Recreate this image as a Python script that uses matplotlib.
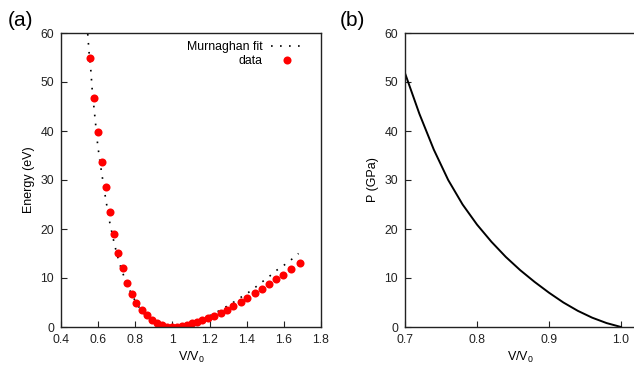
import matplotlib
matplotlib.use("Agg")
import matplotlib.pyplot as plt

# (a) energy data points
v_data = [0.557, 0.578, 0.598, 0.620, 0.640, 0.665, 0.685, 0.708, 0.733, 0.755,
          0.780, 0.805, 0.834, 0.861, 0.889, 0.916, 0.944, 0.971, 0.998, 1.025,
          1.052, 1.079, 1.106, 1.133, 1.161, 1.192, 1.226, 1.259, 1.294, 1.328,
          1.369, 1.404, 1.442, 1.481, 1.522, 1.557, 1.598, 1.638, 1.685]
e_data = [54.8, 46.8, 39.7, 33.6, 28.6, 23.5, 19.0, 15.2, 12.0, 9.0,
          6.8, 4.9, 3.5, 2.4, 1.4, 0.8, 0.35, 0.05, 0.0, 0.05,
          0.2, 0.45, 0.75, 1.1, 1.4, 1.8, 2.2, 2.9, 3.5, 4.3,
          5.1, 5.9, 6.9, 7.8, 8.7, 9.7, 10.7, 11.8, 13.0]

# (a) Murnaghan fit curve
v_fit = [0.544, 0.551, 0.561, 0.568, 0.578, 0.588, 0.598, 0.610, 0.622, 0.640,
         0.660, 0.680, 0.700, 0.725, 0.750, 0.780, 0.810, 0.840, 0.870, 0.900,
         0.930, 0.960, 1.000, 1.040, 1.080, 1.120, 1.160, 1.200, 1.232, 1.274,
         1.319, 1.362, 1.404, 1.443, 1.483, 1.521, 1.562, 1.604, 1.645, 1.679]
e_fit = [59.8, 56.1, 52.2, 48.4, 44.6, 40.8, 37.0, 33.7, 30.7, 26.3,
         21.8, 18.2, 15.0, 11.8, 9.2, 6.7, 4.6, 3.0, 1.8, 0.9,
         0.35, 0.08, 0.0, 0.15, 0.5, 1.0, 1.6, 2.3, 2.9, 3.8,
         4.8, 5.9, 6.9, 8.0, 9.2, 10.3, 11.6, 12.7, 13.9, 15.0]

# (b) pressure curve
v_p = [0.70, 0.72, 0.74, 0.76, 0.78, 0.80, 0.82, 0.84, 0.86, 0.88,
       0.90, 0.92, 0.94, 0.96, 0.98, 1.00]
p_gpa = [51.8, 43.5, 36.2, 30.0, 25.0, 20.9, 17.4, 14.3, 11.6, 9.2,
         7.0, 5.0, 3.3, 1.9, 0.8, 0.0]

a_xticks = [0.4, 0.6, 0.8, 1.0, 1.2, 1.4, 1.6, 1.8]
a_xlabels = ['0.4', '0.6', '0.8', '1', '1.2', '1.4', '1.6', '1.8']
b_xticks = [0.7, 0.8, 0.9, 1.0]
b_xlabels = ['0.7', '0.8', '0.9', '1.0']
yticks = [0, 10, 20, 30, 40, 50, 60]

plt.rcParams['font.family'] = ['Liberation Sans', 'DejaVu Sans']
plt.rcParams['font.size'] = 8.8
plt.rcParams['axes.linewidth'] = 1.0

fig = plt.figure(figsize=(6.34, 3.69), dpi=100)
ax1 = fig.add_axes([61 / 634, 42 / 369, 260 / 634, 294 / 369])
ax2 = fig.add_axes([405 / 634, 42 / 369, 0.32 * 720 / 634, 294 / 369])

for ax in (ax1, ax2):
    ax.tick_params(direction='in', length=4, width=0.8, top=False, right=False,
                   pad=5, colors='#222222', labelsize=8.8)
    ax.set_yticks(yticks)
    ax.set_ylim(0, 60)
    for s in ax.spines.values():
        s.set_color('#222222')

# --- panel (a)
ax1.plot(v_fit, e_fit, color='black', lw=1.2, linestyle=(0, (1, 4.4)),
         label='Murnaghan fit')
ax1.plot(v_data, e_data, linestyle='none', marker='o', ms=5.8, color='red',
         markeredgewidth=0, label='data')
ax1.set_xlim(0.4, 1.8)
ax1.set_xticks(a_xticks)
ax1.set_xticklabels(a_xlabels)
ax1.set_xlabel('V/V$_\\mathregular{0}$', labelpad=3, fontsize=9)
ax1.set_ylabel('Energy (eV)', labelpad=4, fontsize=9)
ax1.legend(loc='upper right', bbox_to_anchor=(0.95, 0.99), frameon=False,
           markerfirst=False, handlelength=2.6, handletextpad=0.7,
           labelspacing=0.2, borderaxespad=0, fontsize=8.8)
fig.text(8 / 634, 1 - 20 / 369, '(a)', fontsize=15, va='center', ha='left')

# --- panel (b)
ax2.plot(v_p, p_gpa, color='black', lw=1.4)
ax2.set_xlim(0.7, 1.02)
ax2.set_xticks(b_xticks)
ax2.set_xticklabels(b_xlabels)
ax2.spines['right'].set_visible(False)
ax2.set_xlabel('V/V$_\\mathregular{0}$', labelpad=3, fontsize=9)
ax2.set_ylabel('P (GPa)', labelpad=4, fontsize=9)
fig.text(340 / 634, 1 - 20 / 369, '(b)', fontsize=15, va='center', ha='left')

fig.savefig('out.png', dpi=100)
